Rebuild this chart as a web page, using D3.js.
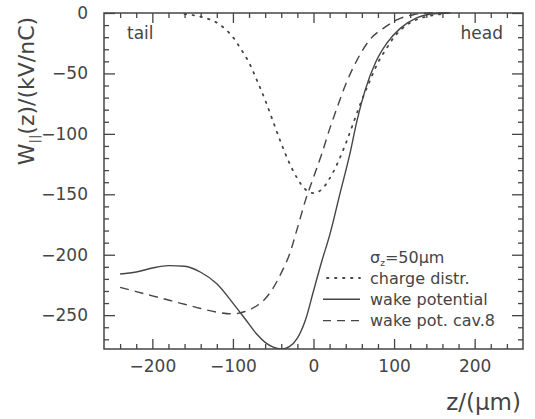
<!DOCTYPE html>
<html>
<head>
<meta charset="utf-8">
<script src="https://cdn.jsdelivr.net/npm/d3@7"></script>
<style>
  body { margin: 0; background: #fff; }
  svg text { font-family: "DejaVu Sans", sans-serif; fill: #454545; }
</style>
</head>
<body>
<svg id="chart" width="535" height="419"></svg>
<script>
// values (z in um, W in kV/nC)
const zCharge = [-160,-150,-140,-130,-120,-110,-100,-90,-80,-70,-60,-50,-40,-30,-20,-10,0,10,20,30,40,50,60,70,80,90,100,110,120,130,140,150,160];
const wCharge = [-0.9,-1.7,-3,-5,-8,-13,-20,-30,-41,-56,-72,-90,-108,-124,-137,-146,-149,-146,-137,-124,-108,-90,-72,-56,-41,-30,-20,-13,-8,-5,-3,-1.7,-0.9];

const zWake = [-240,-220,-200,-180,-160,-140,-120,-100,-85,-70,-60,-50,-40,-30,-20,-10,0,10,20,33,45,54,64,77,91,108,128,150,170];
const wWake = [-216,-214.3,-211,-209,-209.5,-214.5,-224,-240,-253,-266,-272.5,-276.5,-278,-276,-269,-254,-230,-206,-184,-149,-117,-89,-64,-41,-25,-12.5,-4,-0.6,0];

const zCav8 = [-240,-220,-200,-180,-160,-140,-120,-100,-85,-70,-60,-50,-40,-30,-20,-10,0,10,21,30,40,54,70,87,104,124,145,170];
const wCav8 = [-227,-230.5,-234,-237.5,-241,-244.5,-247.5,-249,-247,-242,-236.5,-227.5,-215,-200,-178,-155,-136,-117,-94,-77,-59,-39,-22,-12.5,-5.5,-1.4,0,0];

const xMajor = [-200,-100,0,100,200];
const xMinor = [-240,-220,-180,-160,-140,-120,-80,-60,-40,-20,20,40,60,80,120,140,160,180,220,240];
const yMajor = [0,-50,-100,-150,-200,-250];
const yMinor = [-10,-20,-30,-40,-60,-70,-80,-90,-110,-120,-130,-140,-160,-170,-180,-190,-210,-220,-230,-240,-260,-270];

const legendLabels = ["charge distr.", "wake potential", "wake pot. cav.8"];
const dashes = ["1.5,6.5", null, "9,6"];

const svg = d3.select("#chart");
const pLeft = 104, pRight = 523, pTop = 13, pBottom = 349;
const ink = "#454545";

const x = d3.scaleLinear().domain([-260, 260]).range([pLeft, pRight]);
const y = d3.scaleLinear().domain([-278, 0]).range([pBottom, pTop]);

function styleAxis(g) {
  g.select(".domain").remove();
  g.selectAll("line").attr("stroke", ink).attr("stroke-width", 1.3);
  g.selectAll("text").attr("fill", ink).style("font-size", "17px");
}

// ticks, inward, on all four sides
svg.append("g").attr("transform", "translate(0," + pBottom + ")")
  .call(d3.axisBottom(x).tickValues(xMajor).tickSize(-10).tickPadding(11)).call(styleAxis);
svg.append("g").attr("transform", "translate(0," + pBottom + ")")
  .call(d3.axisBottom(x).tickValues(xMinor).tickSize(-5).tickFormat("")).call(styleAxis);
svg.append("g").attr("transform", "translate(0," + pTop + ")")
  .call(d3.axisTop(x).tickValues(xMajor).tickSize(-10).tickFormat("")).call(styleAxis);
svg.append("g").attr("transform", "translate(0," + pTop + ")")
  .call(d3.axisTop(x).tickValues(xMinor).tickSize(-5).tickFormat("")).call(styleAxis);

svg.append("g").attr("transform", "translate(" + pLeft + ",0)")
  .call(d3.axisLeft(y).tickValues(yMajor).tickSize(-11).tickPadding(16)).call(styleAxis);
svg.append("g").attr("transform", "translate(" + pLeft + ",0)")
  .call(d3.axisLeft(y).tickValues(yMinor).tickSize(-5).tickFormat("")).call(styleAxis);
svg.append("g").attr("transform", "translate(" + pRight + ",0)")
  .call(d3.axisRight(y).tickValues(yMajor).tickSize(-11).tickFormat("")).call(styleAxis);
svg.append("g").attr("transform", "translate(" + pRight + ",0)")
  .call(d3.axisRight(y).tickValues(yMinor).tickSize(-5).tickFormat("")).call(styleAxis);

// frame
svg.append("rect")
  .attr("x", pLeft).attr("y", pTop)
  .attr("width", pRight - pLeft).attr("height", pBottom - pTop)
  .attr("fill", "none").attr("stroke", ink).attr("stroke-width", 1.5);

svg.append("clipPath").attr("id", "plotclip")
  .append("rect").attr("x", pLeft).attr("y", pTop - 1)
  .attr("width", pRight - pLeft).attr("height", pBottom - pTop + 1);

const line = d3.line()
  .x(d => x(d[0]))
  .y(d => y(d[1]))
  .curve(d3.curveMonotoneX);

const series = [d3.zip(zCharge, wCharge), d3.zip(zWake, wWake), d3.zip(zCav8, wCav8)];

svg.append("g").attr("clip-path", "url(#plotclip)")
  .selectAll("path")
  .data(series)
  .enter().append("path")
  .attr("d", line)
  .attr("fill", "none")
  .attr("stroke", ink)
  .attr("stroke-width", (d, i) => i == 0 ? 1.8 : 1.4)
  .attr("stroke-linecap", (d, i) => i == 0 ? "round" : "butt")
  .attr("stroke-dasharray", (d, i) => dashes[i]);

// tail / head
svg.append("text").attr("x", 127).attr("y", 39).style("font-size", "17px").text("tail");
svg.append("text").attr("x", 503).attr("y", 39).attr("text-anchor", "end").style("font-size", "17px").text("head");

// legend
const sigma = svg.append("text").attr("x", 370).attr("y", 263).style("font-size", "16px");
sigma.append("tspan").text("σ");
sigma.append("tspan").attr("dy", 3).style("font-size", "9px").text("z");
sigma.append("tspan").attr("dy", -3).text("=50μm");

const leg = svg.selectAll(".leg")
  .data(legendLabels)
  .enter().append("g")
  .attr("class", "leg")
  .attr("transform", (d, i) => "translate(0," + (278 + i * 21.3) + ")");

leg.append("line")
  .attr("x1", (d, i) => i == 0 ? 327 : 323).attr("x2", 360)
  .attr("stroke", ink)
  .attr("stroke-width", (d, i) => i == 0 ? 1.8 : 1.4)
  .attr("stroke-linecap", (d, i) => i == 0 ? "round" : "butt")
  .attr("stroke-dasharray", (d, i) => i == 2 ? "8,6" : dashes[i]);

leg.append("text")
  .attr("x", 370).attr("dy", "0.35em")
  .style("font-size", "16px")
  .text(d => d);

// axis titles
const yt = svg.append("text")
  .attr("transform", "translate(34,91) rotate(-90)")
  .attr("text-anchor", "middle")
  .style("font-size", "22px");
yt.append("tspan").text("W");
yt.append("tspan").attr("dy", 5).style("font-size", "13px").text("||");
yt.append("tspan").attr("dy", -5).text("(z)/(kV/nC)");

svg.append("text")
  .attr("x", 521).attr("y", 410)
  .attr("text-anchor", "end")
  .style("font-size", "23px")
  .text("z/(μm)");
</script>
</body>
</html>
